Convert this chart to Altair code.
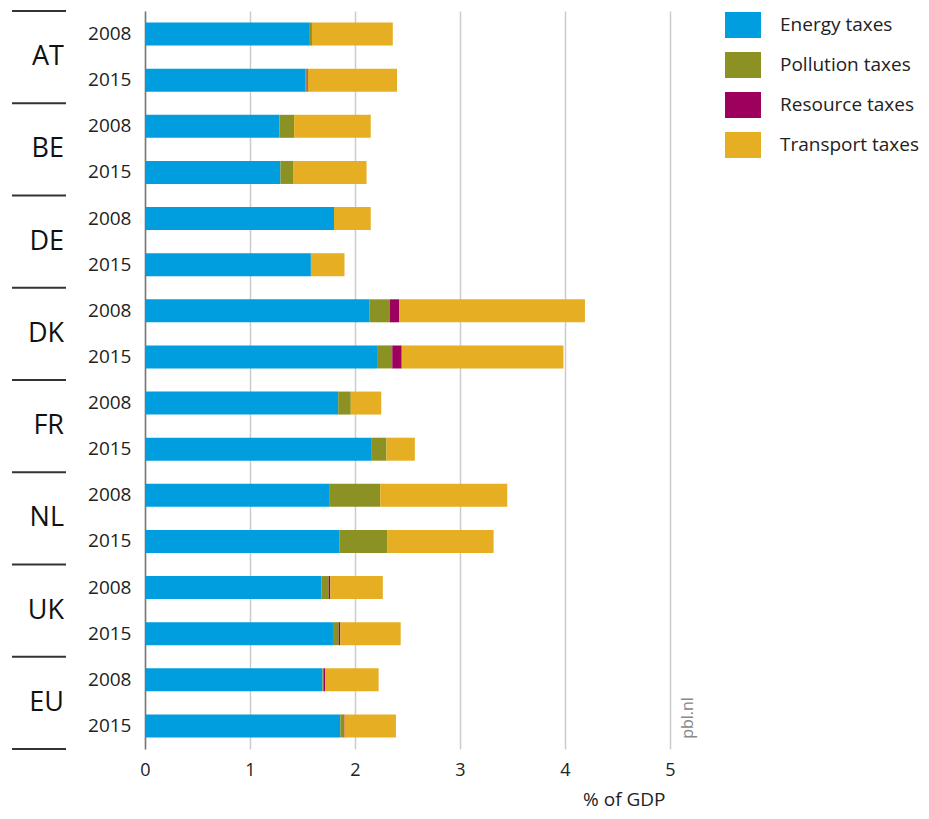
import altair as alt
import pandas as pd

countries = ["AT", "BE", "DE", "DK", "FR", "NL", "UK", "EU"]
years = ["2008", "2015"]
series = ["Energy taxes", "Pollution taxes", "Resource taxes", "Transport taxes"]
colors = ["#009EDE", "#8C9124", "#9E005D", "#E6AE22"]

# order: AT08, AT15, BE08, BE15, DE08, DE15, DK08, DK15, FR08, FR15, NL08, NL15, UK08, UK15, EU08, EU15
energy    = [1.57, 1.53, 1.28, 1.29, 1.80, 1.58, 2.14, 2.21, 1.84, 2.16, 1.76, 1.85, 1.68, 1.79, 1.69, 1.86]
pollution = [0.02, 0.01, 0.14, 0.12, 0.00, 0.00, 0.19, 0.145, 0.12, 0.14, 0.48, 0.46, 0.07, 0.055, 0.01, 0.035]
resource  = [0.00, 0.01, 0.00, 0.00, 0.00, 0.00, 0.09, 0.09, 0.00, 0.00, 0.00, 0.00, 0.015, 0.015, 0.015, 0.005]
transport = [0.77, 0.85, 0.73, 0.70, 0.35, 0.32, 1.77, 1.54, 0.29, 0.27, 1.21, 1.01, 0.50, 0.575, 0.51, 0.49]

keys = [f"{c} {y}" for c in countries for y in years]
values = [energy, pollution, resource, transport]

rows = []
for si, (s, vals) in enumerate(zip(series, values)):
    for k, v in zip(keys, vals):
        rows.append({"key": k, "series": s, "value": v, "ord": si})
df = pd.DataFrame(rows)

FONT = "Open Sans"

y_axis = alt.Axis(
    title=None,
    labelExpr="split(datum.label, ' ')[1]",
    ticks=False,
    domainColor="#777777",
    domainWidth=1.5,
    labelPadding=14,
    labelFontSize=19,
    labelColor="#222222",
    labelFont=FONT,
    grid=False,
)
y_scale = alt.Scale(domain=keys, paddingInner=0, paddingOuter=0)

def yenc(band=0.5):
    return alt.Y("key:N", sort=keys, scale=y_scale, axis=y_axis, bandPosition=band)

bars = alt.Chart(df).mark_bar(size=23).encode(
    x=alt.X(
        "value:Q",
        stack="zero",
        scale=alt.Scale(domain=[0, 5], nice=False),
        axis=alt.Axis(
            values=[0, 1, 2, 3, 4, 5],
            grid=True,
            gridColor="#cccccc",
            gridWidth=1.5,
            domain=False,
            ticks=False,
            labelFlush=False,
            title="% of GDP",
            titleX=520,
            titleAlign="right",
            titleFontSize=19,
            titleFontWeight="normal",
            titleFont=FONT,
            titleColor="#222222",
            titlePadding=11,
            labelFontSize=18,
            labelFont=FONT,
            labelColor="#222222",
            labelPadding=12,
        ),
    ),
    y=alt.Y("key:N", sort=keys, scale=y_scale, axis=y_axis),
    color=alt.Color(
        "series:N",
        scale=alt.Scale(domain=series, range=colors),
        legend=alt.Legend(
            title=None,
            orient="none",
            legendX=580,
            legendY=-4,
            symbolType="M-1,-0.72L1,-0.72L1,0.72L-1,0.72Z",
            symbolSize=1296,
            symbolStrokeWidth=0,
            symbolOpacity=1,
            labelFontSize=19,
            labelFont=FONT,
            labelColor="#222222",
            labelOffset=19,
            rowPadding=9,
            labelLimit=300,
        ),
    ),
    order=alt.Order("ord:Q"),
)

cdf = pd.DataFrame({"key": [f"{c} 2008" for c in countries], "label": countries})
country_text = alt.Chart(cdf).mark_text(
    align="right", baseline="middle", fontSize=27, font=FONT, color="#111111"
).encode(
    y=yenc(1),
    x=alt.value(-81),
    text="label:N",
)

sep_top = alt.Chart(cdf).mark_rule(color="#333333", strokeWidth=2).encode(
    y=yenc(0),
    x=alt.value(-133),
    x2=alt.value(-79),
)
sep_bottom = alt.Chart(pd.DataFrame({"key": [keys[-1]]})).mark_rule(
    color="#333333", strokeWidth=2
).encode(
    y=yenc(1),
    x=alt.value(-133),
    x2=alt.value(-79),
)

pbl = alt.Chart(pd.DataFrame({"t": ["pbl.nl"]})).mark_text(
    angle=270, align="center", baseline="middle", fontSize=16, font=FONT, color="#888888"
).encode(
    x=alt.value(543),
    y=alt.value(707),
    text="t:N",
)

chart = alt.layer(bars, sep_top, sep_bottom, country_text, pbl).properties(
    width=525,
    height=738,
    autosize=alt.AutoSizeParams(type="none"),
    padding={"left": 137, "top": 3, "right": 251, "bottom": 62},
).configure_view(stroke=None)

chart.save("out.html", embed_options={"renderer": "svg", "actions": False})
